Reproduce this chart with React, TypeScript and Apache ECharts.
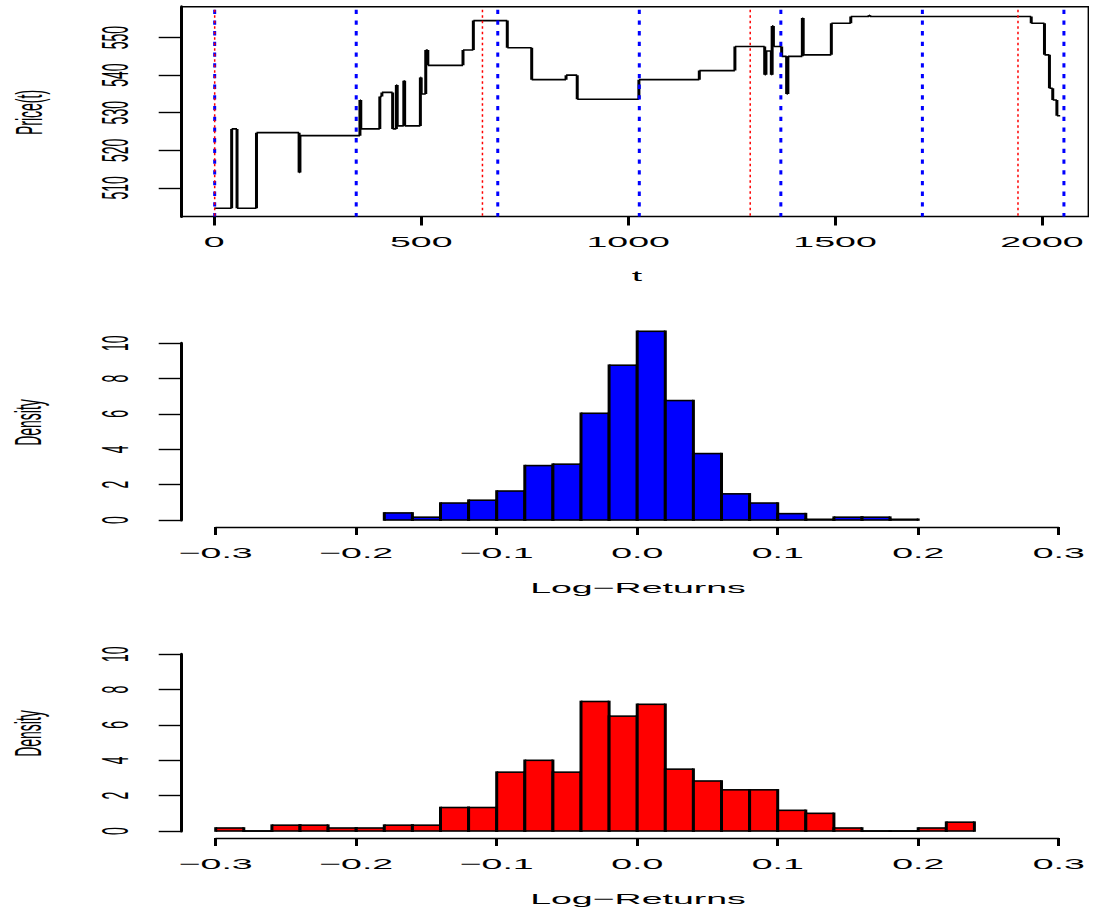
import React, { useEffect, useRef } from "react";
import * as echarts from "echarts";

// ---------- data ----------
const priceT = [0, 42, 55, 102, 205, 207, 352, 354, 400, 405, 431, 440, 442, 458, 460, 498, 500, 511, 516, 601, 626, 708, 767, 850, 877, 1026, 1172, 1258, 1330, 1333, 1346, 1348, 1351, 1371, 1383, 1386, 1421, 1423, 1491, 1538, 1582, 1584, 1974, 2006, 2018, 2026, 2036, 2044];
const priceP = [504.6, 525.7, 504.6, 524.7, 514.1, 523.9, 533.4, 525.7, 534.3, 535.4, 525.7, 537.4, 526.5, 538.5, 526.5, 539.4, 535.0, 546.7, 542.6, 546.7, 554.5, 547.3, 538.8, 540.0, 533.6, 538.8, 541.2, 547.6, 540.1, 546.4, 540.1, 553.1, 547.6, 545.0, 535.0, 545.0, 555.2, 545.4, 553.8, 555.6, 555.9, 555.6, 553.8, 545.4, 536.5, 533.4, 529.2, 529.2];
const blueLinesT = [1, 343, 685, 1027, 1369, 1711, 2053];
const redLinesT = [1, 648, 1295, 1942];

const priceTickT = [0, 500, 1000, 1500, 2000];
const priceTickTLabels = ["0", "500", "1000", "1500", "2000"];
const priceTickY = [510, 520, 530, 540, 550];
const priceTickYLabels = ["510", "520", "530", "540", "550"];

const blueBreaks = [-0.18, -0.16, -0.14, -0.12, -0.10, -0.08, -0.06, -0.04, -0.02, 0.0, 0.02, 0.04, 0.06, 0.08, 0.10, 0.12, 0.14, 0.16, 0.18, 0.20];
const blueDensity = [0.40, 0.16, 0.96, 1.12, 1.64, 3.08, 3.16, 6.04, 8.76, 10.68, 6.76, 3.76, 1.48, 0.96, 0.36, 0.04, 0.16, 0.16, 0.04];

const redBreaks = [-0.30, -0.28, -0.26, -0.24, -0.22, -0.20, -0.18, -0.16, -0.14, -0.12, -0.10, -0.08, -0.06, -0.04, -0.02, 0.0, 0.02, 0.04, 0.06, 0.08, 0.10, 0.12, 0.14, 0.16, 0.18, 0.20, 0.22, 0.24];
const redDensity = [0.17, 0, 0.33, 0.33, 0.17, 0.17, 0.33, 0.33, 1.33, 1.33, 3.33, 4.0, 3.33, 7.33, 6.5, 7.17, 3.5, 2.83, 2.33, 2.33, 1.17, 1.0, 0.17, 0, 0, 0.17, 0.5];

const retTicks = [-0.3, -0.2, -0.1, 0, 0.1, 0.2, 0.3];
const retTickLabels = ["\u22120.3", "\u22120.2", "\u22120.1", "0.0", "0.1", "0.2", "0.3"];
const densTicks = [0, 2, 4, 6, 8, 10];
const densTickLabels = ["0", "2", "4", "6", "8", "10"];

// ---------- style / layout ----------
const FONT = '"Liberation Sans", Arial, Helvetica, sans-serif';
const H_FS = 15;
const H_SX = 2.5;
const V_FS = 14;
const V_SY = 2.6;
const G0 = { left: 181.7, top: 6.7, width: 906.6, height: 209.8 };
const HIST_LEFT = 215.7;
const HIST_W = 843;
const HIST_H = 176.7;
const HIST_TOPS = [343.3, 654.3];

function histItems(breaks: number[], dens: number[]) {
  return dens.map((d, i) => [breaks[i], breaks[i + 1], d]);
}

function histRender(color: string) {
  return (params: any, api: any) => {
    const x0 = api.value(0);
    const x1 = api.value(1);
    const d = api.value(2);
    const a = api.coord([x0, 0]);
    const b = api.coord([x1, d]);
    const left = a[0], right = b[0], bottom = a[1], top = b[1];
    return {
      type: "group",
      children: [
        { type: "rect", shape: { x: left, y: top, width: right - left, height: bottom - top }, style: { fill: color } },
        { type: "line", shape: { x1: left, y1: top, x2: right, y2: top }, style: { stroke: "#000", lineWidth: 1.6 } },
        { type: "line", shape: { x1: left, y1: bottom, x2: right, y2: bottom }, style: { stroke: "#000", lineWidth: 1.6 } },
        { type: "line", shape: { x1: left, y1: top - 0.8, x2: left, y2: bottom + 0.8 }, style: { stroke: "#000", lineWidth: 3 } },
        { type: "line", shape: { x1: right, y1: top - 0.8, x2: right, y2: bottom + 0.8 }, style: { stroke: "#000", lineWidth: 3 } },
      ],
    };
  };
}

function vlineRender(color: string, width: number, dash: number[]) {
  return (params: any, api: any) => {
    const x = api.coord([api.value(0), 530])[0];
    const cs = params.coordSys;
    return {
      type: "line",
      shape: { x1: x, y1: cs.y + 3, x2: x, y2: cs.y + cs.height },
      style: { stroke: color, lineWidth: width, lineDash: dash },
    };
  };
}

function priceRender(params: any, api: any) {
  const i = params.dataIndex;
  if (i >= priceT.length - 1) return null;
  const p = api.coord([priceT[i], priceP[i]]);
  const q = api.coord([priceT[i + 1], priceP[i]]);
  const r = api.coord([priceT[i + 1], priceP[i + 1]]);
  return {
    type: "group",
    children: [
      { type: "line", shape: { x1: p[0], y1: p[1], x2: q[0], y2: q[1] }, style: { stroke: "#000", lineWidth: 1.6 } },
      { type: "line", shape: { x1: q[0], y1: q[1], x2: r[0], y2: r[1] }, style: { stroke: "#000", lineWidth: 3 } },
    ],
  };
}

function hText(text: string, x: number, y: number) {
  return {
    type: "text",
    x,
    y,
    scaleX: H_SX,
    scaleY: 1,
    silent: true,
    style: {
      text,
      fontSize: H_FS,
      fontFamily: FONT,
      fill: "#000",
      align: "center",
      verticalAlign: "middle",
      textAlign: "center",
      textVerticalAlign: "middle",
    },
  };
}

function vText(text: string, x: number, y: number) {
  return {
    type: "text",
    x,
    y,
    rotation: Math.PI / 2,
    scaleX: 1,
    scaleY: V_SY,
    silent: true,
    style: {
      text,
      fontSize: V_FS,
      fontFamily: FONT,
      fill: "#000",
      align: "center",
      verticalAlign: "middle",
      textAlign: "center",
      textVerticalAlign: "middle",
    },
  };
}

function xAxisHist(gridIndex: number) {
  return {
    gridIndex,
    type: "value",
    min: -0.3,
    max: 0.3,
    offset: 7,
    axisLine: { show: true, onZero: false, lineStyle: { color: "#000", width: 1.4 } },
    axisTick: { show: true, customValues: retTicks, length: 8, lineStyle: { color: "#000", width: 3 } },
    axisLabel: { show: false },
    splitLine: { show: false },
  };
}

function yAxisHist(gridIndex: number) {
  return {
    gridIndex,
    type: "value",
    min: 0,
    max: 10,
    offset: 34,
    axisLine: { show: true, onZero: false, lineStyle: { color: "#000", width: 3 } },
    axisTick: { show: true, customValues: densTicks, length: 23, lineStyle: { color: "#000", width: 1.4 } },
    axisLabel: { show: false },
    splitLine: { show: false },
  };
}

export default function App() {
  const ref = useRef<HTMLDivElement>(null);

  useEffect(() => {
    if (!ref.current) return;
    const chart = echarts.init(ref.current, undefined, { renderer: "svg" });
    const option: any = {
      animation: false,
      backgroundColor: "#ffffff",
      grid: [
        { ...G0, show: true, borderColor: "#000", borderWidth: 1.4, backgroundColor: "transparent" },
        { left: HIST_LEFT, top: HIST_TOPS[0], width: HIST_W, height: HIST_H },
        { left: HIST_LEFT, top: HIST_TOPS[1], width: HIST_W, height: HIST_H },
      ],
      xAxis: [
        {
          gridIndex: 0,
          type: "value",
          min: -78.7,
          max: 2111.9,
          axisLine: { show: false, onZero: false },
          axisTick: { show: true, customValues: priceTickT, length: 9, lineStyle: { color: "#000", width: 3 } },
          axisLabel: { show: false },
          splitLine: { show: false },
        },
        xAxisHist(1),
        xAxisHist(2),
      ],
      yAxis: [
        {
          gridIndex: 0,
          type: "value",
          min: 502.4,
          max: 558.2,
          axisLine: { show: true, onZero: false, lineStyle: { color: "#000", width: 3 } },
          axisTick: { show: true, customValues: priceTickY, length: 23, lineStyle: { color: "#000", width: 1.4 } },
          axisLabel: { show: false },
          splitLine: { show: false },
        },
        yAxisHist(1),
        yAxisHist(2),
      ],
      series: [
        {
          type: "custom",
          name: "Price",
          xAxisIndex: 0,
          yAxisIndex: 0,
          data: priceT.map((t, i) => [t, priceP[i]]),
          renderItem: priceRender,
          clip: true,
          silent: true,
        },
        {
          type: "custom",
          name: "blue",
          xAxisIndex: 0,
          yAxisIndex: 0,
          data: blueLinesT.map((t) => [t, 530]),
          renderItem: vlineRender("#0000FF", 3, [4.3, 6.4]),
          silent: true,
        },
        {
          type: "custom",
          name: "red",
          xAxisIndex: 0,
          yAxisIndex: 0,
          data: redLinesT.map((t) => [t, 530]),
          renderItem: vlineRender("#FF0000", 1.5, [2.5, 3]),
          silent: true,
        },
        {
          type: "custom",
          name: "hist1",
          xAxisIndex: 1,
          yAxisIndex: 1,
          data: histItems(blueBreaks, blueDensity),
          encode: { x: [0, 1], y: 2 },
          renderItem: histRender("#0000FF"),
          clip: false,
          silent: true,
        },
        {
          type: "custom",
          name: "hist2",
          xAxisIndex: 2,
          yAxisIndex: 2,
          data: histItems(redBreaks, redDensity),
          encode: { x: [0, 1], y: 2 },
          renderItem: histRender("#FF0000"),
          clip: false,
          silent: true,
        },
      ],
    };
    chart.setOption(option);

    // labels placed through the axes' own scales, drawn as stretched texts
    const g: any[] = [];
    const xBottom0 = G0.top + G0.height;
    priceTickT.forEach((v, i) => {
      const x = chart.convertToPixel({ xAxisIndex: 0 } as any, v) as any;
      g.push(hText(priceTickTLabels[i], x, xBottom0 + 25));
    });
    priceTickY.forEach((v, i) => {
      const y = chart.convertToPixel({ yAxisIndex: 0 } as any, v) as any;
      g.push(vText(priceTickYLabels[i], 115, y));
    });
    g.push(hText("t", 637, xBottom0 + 59.5));
    g.push(vText("Price(t)", 29, 112.5));

    [1, 2].forEach((k) => {
      const base = HIST_TOPS[k - 1] + HIST_H;
      retTicks.forEach((v, i) => {
        const x = chart.convertToPixel({ xAxisIndex: k } as any, v) as any;
        g.push(hText(retTickLabels[i], x, base + 33));
      });
      densTicks.forEach((v, i) => {
        const y = chart.convertToPixel({ yAxisIndex: k } as any, v) as any;
        g.push(vText(densTickLabels[i], 115.5, y));
      });
      g.push(hText("Log\u2212Returns", 638, base + 68));
      g.push(vText("Density", 28, base - 97.5));
    });
    chart.setOption({ graphic: g });

    return () => chart.dispose();
  }, []);

  return (
    <div
      ref={ref}
      style={{ position: "absolute", left: 0, top: 0, width: 1093, height: 909, background: "#fff" }}
    />
  );
}
